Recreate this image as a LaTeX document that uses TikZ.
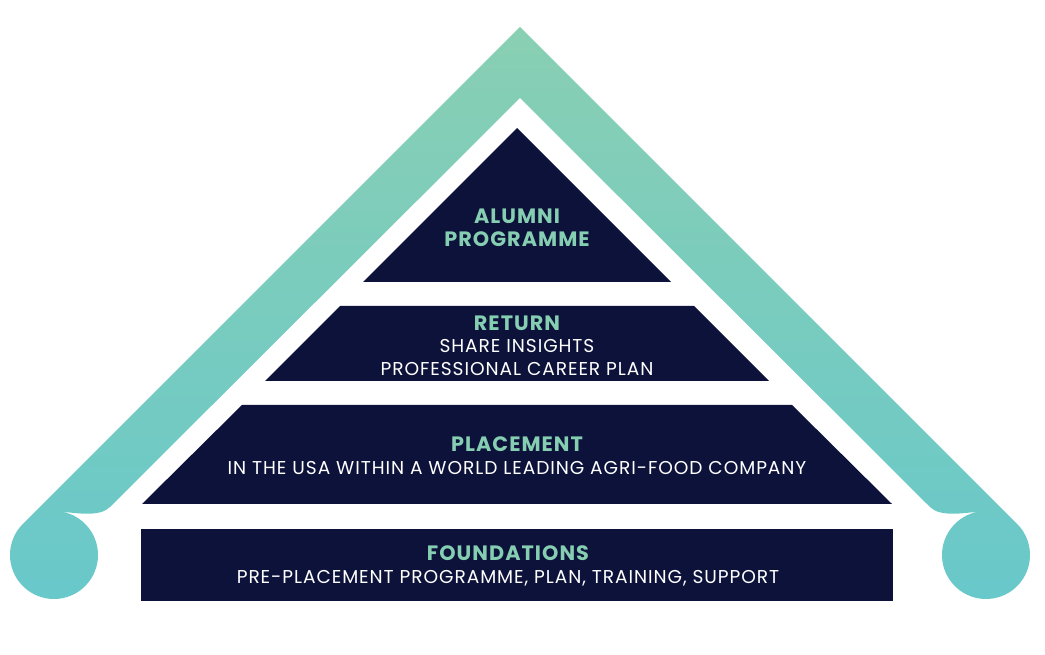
\documentclass[tikz,border=0pt]{standalone}
\usepackage{fontspec}
\setmainfont{Poppins}[LetterSpace=5]
\usetikzlibrary{calc}
\definecolor{navy}{RGB}{12,18,58}
\definecolor{mint}{RGB}{134,206,178}
\definecolor{roofTop}{RGB}{137,207,179}
\definecolor{roofBot}{RGB}{104,200,202}
\newcommand\tierhead[1]{\textcolor{mint}{\fontsize{20.8}{22.5}\selectfont\bfseries #1}}
\tikzset{
  block/.style={fill=navy},
  tiertext/.style={align=center,text=white,inner sep=0pt,
    font=\fontsize{18.6}{22.5}\selectfont},
}

\begin{document}
\begin{tikzpicture}[x=1pt,y=1pt]
\def\cx{517}
\def\rc{44}
\useasboundingbox (0,0) rectangle (1045,654);

% roof with the two curls
\shade[top color=roofTop,bottom color=roofBot]
  (520,627) -- ([shift={(135:\rc)}]54,99)
  arc[start angle=135,end angle=442,radius=\rc]
  .. controls +(18,-2) and (100,137) .. (110,147)
  -- (520,556) -- (930,147)
  .. controls (940,137) and (962,140.6) .. ([shift={(98:\rc)}]986,99)
  arc[start angle=98,end angle=405,radius=\rc]
  -- cycle;

% pyramid
\fill[block] (\cx,526) -- (\cx+154,372) -- (\cx-154,372) -- cycle;
\fill[block] (\cx-177,348) -- (\cx+177,348)
  -- (\cx+252,273) -- (\cx-252,273) -- cycle;
\fill[block] (\cx-275,249) -- (\cx+275,249)
  -- (\cx+375,150) -- (\cx-375,150) -- cycle;
\fill[block] (\cx-376,125) rectangle (\cx+376,53);

\node[tiertext] (alumni) at (\cx,426)
  {\tierhead{ALUMNI}\\\tierhead{PROGRAMME}};
\node[tiertext] (return) at (\cx,308.5)
  {\tierhead{RETURN}\\SHARE INSIGHTS\\PROFESSIONAL CAREER PLAN};
\node[tiertext] (placement) at (\cx,198.5)
  {\tierhead{PLACEMENT}\\IN THE USA WITHIN A WORLD LEADING AGRI-FOOD COMPANY};
\node[tiertext] (foundations) at (508,88)
  {\tierhead{FOUNDATIONS}\\PRE-PLACEMENT PROGRAMME, PLAN, TRAINING, SUPPORT};
\end{tikzpicture}
\end{document}
